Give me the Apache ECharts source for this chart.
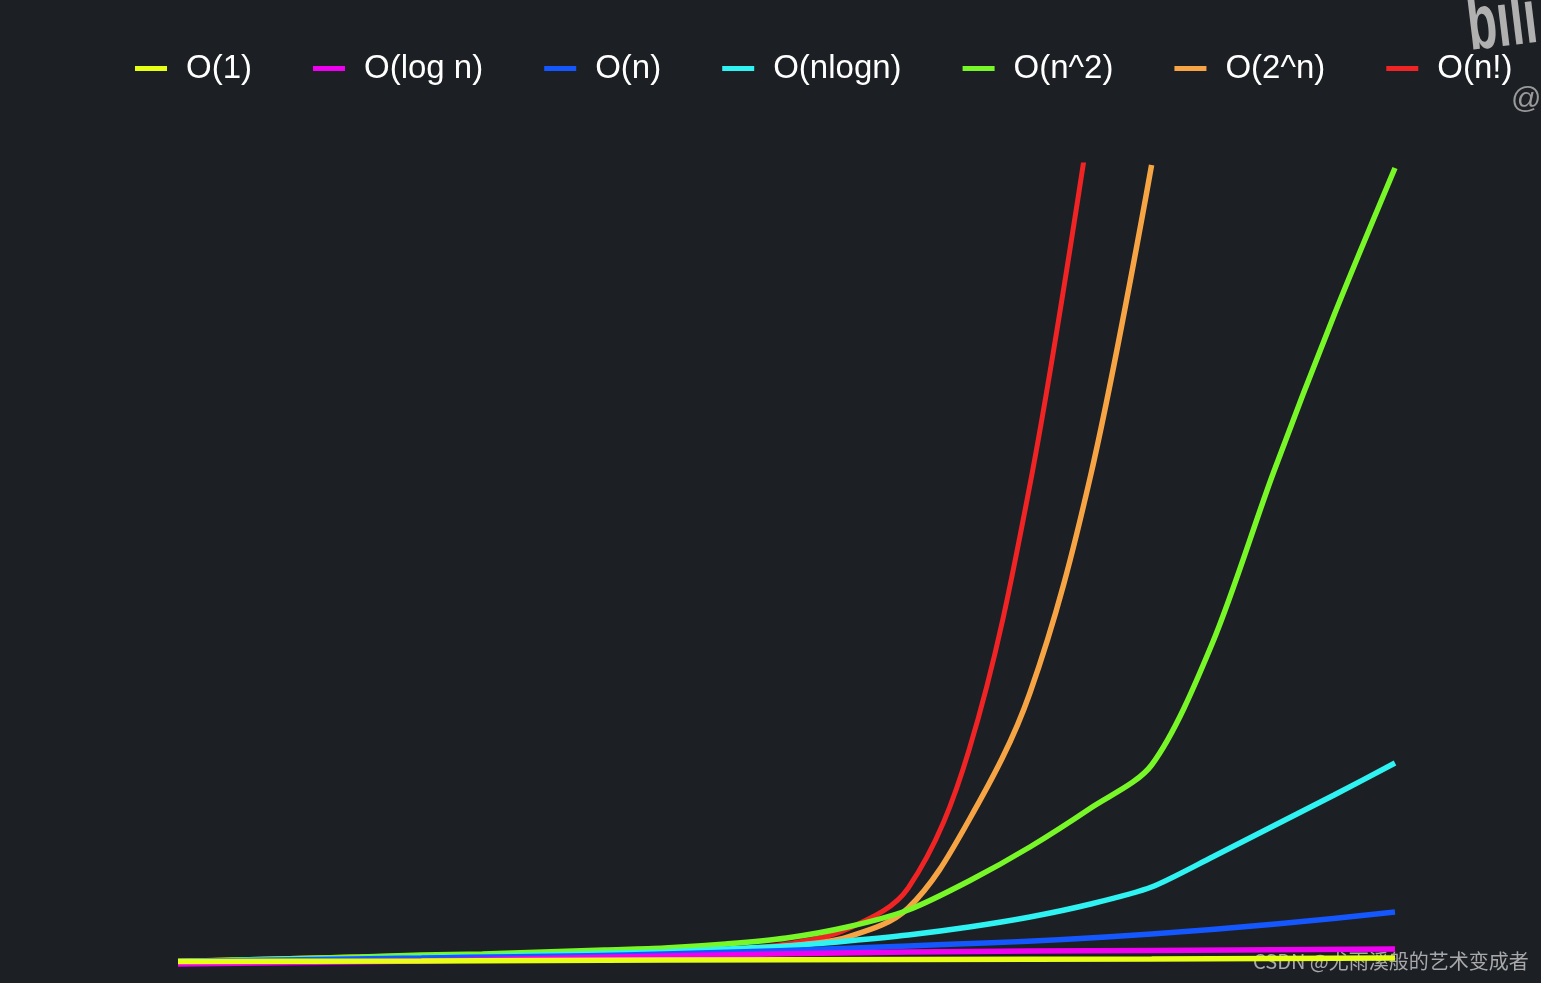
<!DOCTYPE html>
<html>
<head>
<meta charset="utf-8">
<script src="https://cdn.jsdelivr.net/npm/echarts@6/dist/echarts.min.js"></script>
<style>
html,body{margin:0;padding:0;background:#1c1f24;}
#c{width:1541px;height:983px;}
</style>
</head>
<body>
<div id="c"></div>
<script>
// ---- data ----
const seriesNames = ['O(1)', 'O(log n)', 'O(n)', 'O(nlogn)', 'O(n^2)', 'O(2^n)', 'O(n!)'];
const seriesColors = ['#e6ff12', '#f000f0', '#1457ff', '#2ff2f2', '#78f728', '#f7a445', '#f02424'];
const seriesSmooth = [0.5, 0.5, 0.5, 0.25, 0.3, 0.35, 0.35];

const nCoarse = [0, 4, 8, 12, 16, 20];
const nFine = [0, 1, 2, 3, 4, 5, 6, 7, 8, 9, 10, 11, 12, 13, 14, 15, 16, 17, 18, 19, 20];

const o1Vals     = [3.5, 4, 5, 5.5, 6, 7];
const ologVals   = [1, 4, 9, 13, 14.5, 16];
const onVals     = [3.5, 7, 11, 19, 31, 53];
const onlognVals = [3.5, 4.5, 5.5, 6.5, 7.5, 8.5, 10, 11.5, 13, 16, 19, 24, 30, 38, 48, 61, 78, 108, 139, 170, 202];
const on2Vals    = [3.5, 5, 6.5, 8, 10, 11, 13, 15, 17, 21, 27, 38, 55, 84, 118, 157, 200, 322, 492, 650, 797];
const o2nVals    = [3.5, 5, 6.5, 8, 9, 10, 11, 12, 13, 15, 19, 28, 57, 145, 272, 490, 800];
const onfactVals = [3.5, 4, 5, 6, 7, 8, 9, 10, 12, 15, 21, 36, 77, 215, 480, 850];

const watermarkText = 'CSDN @尤雨溪般的艺术变成者';

function pairs(ks, vs) { return vs.map(function (v, i) { return [ks[i], v]; }); }

const seriesData = [
  pairs(nCoarse, o1Vals),
  pairs(nCoarse, ologVals),
  pairs(nCoarse, onVals),
  pairs(nFine, onlognVals),
  pairs(nFine, on2Vals),
  pairs(nFine, o2nVals),
  pairs(nFine, onfactVals)
];

const chart = echarts.init(document.getElementById('c'), null, {renderer: 'canvas'});

const series = [];
for (let i = seriesNames.length - 1; i >= 0; i--) {
  series.push({
    name: seriesNames[i],
    type: 'line',
    data: seriesData[i],
    smooth: seriesSmooth[i],
    showSymbol: false,
    symbol: 'none',
    clip: true,
    lineStyle: {width: i === 6 ? 5 : 5.5, color: seriesColors[i], cap: 'butt'},
    itemStyle: {color: seriesColors[i]},
    animation: false
  });
}

chart.setOption({
  backgroundColor: '#1c1f24',
  animation: false,
  legend: {
    data: seriesNames,
    left: 135,
    top: 52,
    padding: 0,
    icon: 'rect',
    itemWidth: 32,
    itemHeight: 5,
    itemGap: 61,
    textStyle: {
      color: '#ffffff',
      fontSize: 33,
      fontFamily: '"Liberation Sans", Arial, sans-serif',
      padding: [0, 0, 0, 14]
    }
  },
  grid: {left: 178, right: 146, top: 165, bottom: 18, containLabel: false},
  xAxis: {
    type: 'value', min: 0, max: 20,
    show: false
  },
  yAxis: {
    type: 'value', min: 0, max: 800,
    show: false
  },
  graphic: [
    {
      type: 'text', left: 1253, top: 951,
      style: {text: watermarkText, fill: 'rgba(215,215,215,0.75)', fontSize: 20,
              fontFamily: '"Noto Sans CJK SC", "Liberation Sans", sans-serif'}
    },
    {
      type: 'text', x: 1463, y: -10, rotation: 0.12, scaleX: 0.62,
      style: {text: 'bili', fill: '#b0b0b0', fontSize: 78, fontWeight: 'bold',
              fontFamily: '"Liberation Sans", Arial, sans-serif'}
    },
    {
      type: 'text', x: 1511, y: 85,
      style: {text: '@', fill: '#9a9a9a', fontSize: 30,
              fontFamily: '"Liberation Sans", Arial, sans-serif'}
    }
  ],
  series: series
});
</script>
</body>
</html>
